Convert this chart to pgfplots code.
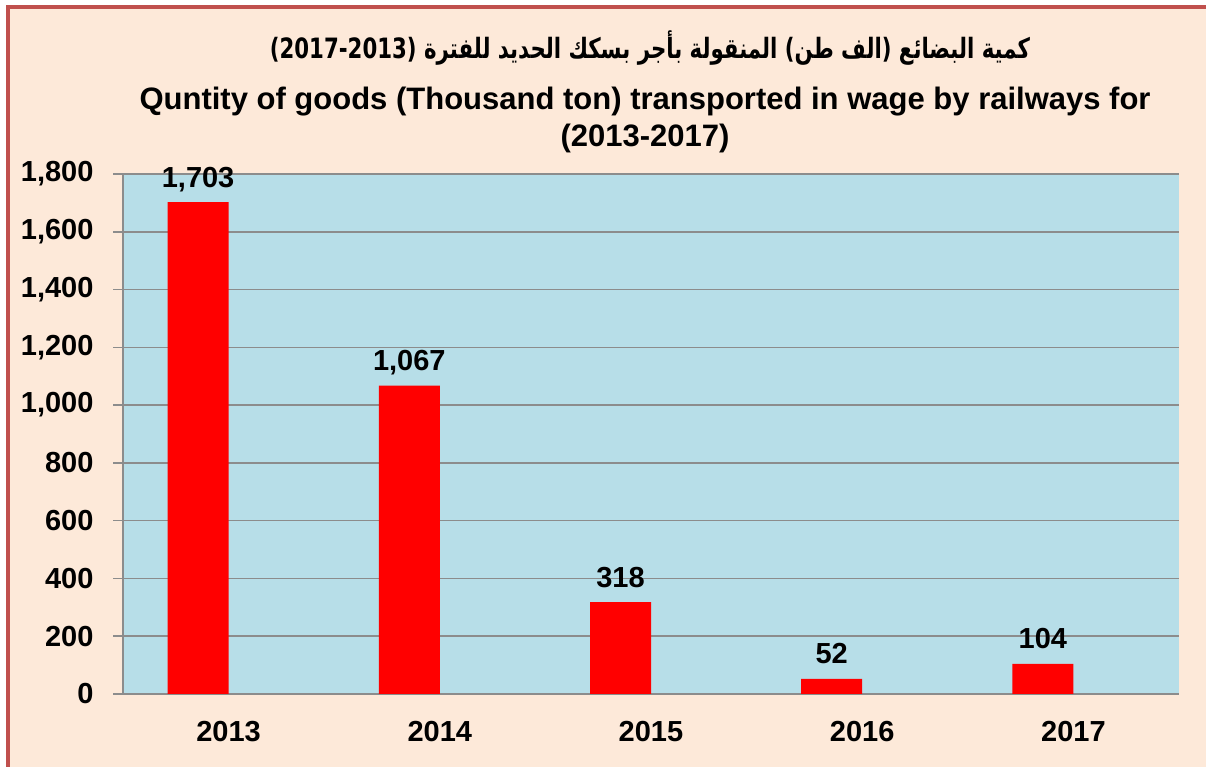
\documentclass[border=0pt]{standalone}
\usepackage{pgfplots}
\pgfplotsset{compat=1.18}
\usepackage{fontspec}
\setmainfont{Liberation Sans}
\newfontfamily\arabicfont[Script=Arabic]{DejaVu Sans}
\TeXXeTstate=1
\definecolor{pagebg}{HTML}{FDE9D9}
\definecolor{plotbg}{HTML}{B7DEE8}
\definecolor{framecol}{HTML}{C0504D}
\definecolor{gridcol}{HTML}{8C8C8C}
\definecolor{barcol}{HTML}{FF0000}
\newcommand{\lbl}{\bfseries\fontsize{29}{29}\selectfont}
\begin{document}
\begin{tikzpicture}[x=1pt,y=1pt]
\useasboundingbox (0,0) rectangle (1206,767);
\fill[white] (0,0) rectangle (1206,767);
\fill[pagebg] (8,0) rectangle (1206,760);
\draw[framecol, line width=4pt] (8,0) -- (8,760) -- (1206,760);
\begin{axis}[
  at={(123pt,73pt)}, anchor=south west,
  scale only axis, width=1056pt, height=520pt,
  xmin=-0.5, xmax=4.5, ymin=0, ymax=1800,
  ybar, bar width=61pt, bar shift=-30.5pt,
  axis background/.style={fill=plotbg},
  axis x line*=bottom, axis y line*=left,
  axis line style={gridcol, line width=1.5pt},
  ymajorgrids, grid style={gridcol, line width=1.5pt},
  ytick={0,200,...,1800},
  xtick={0,1,2,3,4},
  xticklabels={2013,2014,2015,2016,2017},
  minor xtick={-0.5,0.5,1.5,2.5,3.5,4.5},
  tick align=outside,
  major tick length=10pt, minor tick length=8pt,
  xtick style={draw=none},
  minor tick style={gridcol, line width=1.5pt},
  ytick style={gridcol, line width=1.5pt},
  tick label style={font=\lbl},
  /pgf/number format/assume math mode=true,
  /pgf/number format/1000 sep={,},
  xticklabel style={yshift=-14pt},
  yticklabel style={xshift=-16pt},
  nodes near coords,
  every node near coord/.append style={font=\lbl, anchor=base, yshift=15pt, text=black},
  clip=false,
]
\addplot[fill=barcol, draw=none] coordinates {(0,1703) (1,1067) (2,318) (3,52) (4,104)};
\end{axis}
\node[font=\arabicfont\bfseries\fontsize{28}{28}\selectfont, xscale=0.76] at (650,719)
  {\beginR كمية البضائع (الف طن) المنقولة بأجر بسكك الحديد للفترة \beginL(2017-2013)\endL\endR};
\node[font=\bfseries\fontsize{31}{31}\selectfont] at (645,665) {Quntity of goods (Thousand ton) transported in wage by railways for};
\node[font=\bfseries\fontsize{31}{31}\selectfont] at (645,629) {(2013-2017)};
\end{tikzpicture}
\end{document}
